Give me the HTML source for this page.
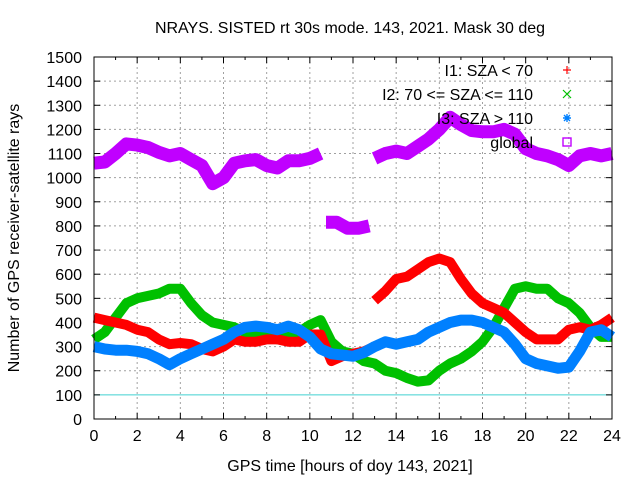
<!DOCTYPE html>
<html><head><meta charset="utf-8"><style>
body{margin:0;background:#fff}
svg{display:block;font-family:"Liberation Sans",sans-serif}
</style></head><body>
<svg id="chart" width="640" height="480">
<text x="350" y="33" font-size="16" text-anchor="middle" fill="#000">NRAYS. SISTED rt 30s mode. 143, 2021. Mask 30 deg</text>
<g id="grid"></g><g id="ticks"></g><g id="series"></g>
<text x="19" y="238" font-size="16" text-anchor="middle" transform="rotate(-90 19 238)">Number of GPS receiver-satellite rays</text>
<text x="350" y="471" font-size="16" text-anchor="middle">GPS time [hours of doy 143, 2021]</text>
<rect x="94" y="57" width="518" height="362" fill="none" stroke="#000" stroke-width="1"/>
<g id="legend"></g>
</svg>
<script>
const xTicks=[0,2,4,6,8,10,12,14,16,18,20,22,24];
const yTicks=[0,100,200,300,400,500,600,700,800,900,1000,1100,1200,1300,1400,1500];
const hours=[0,0.5,1,1.5,2,2.5,3,3.5,4,4.5,5,5.5,6,6.5,7,7.5,8,8.5,9,9.5,10,10.5,11,11.5,12,12.5,13,13.5,14,14.5,15,15.5,16,16.5,17,17.5,18,18.5,19,19.5,20,20.5,21,21.5,22,22.5,23,23.5,24];
const globalX=[0,0.5,1,1.5,2,2.5,3,3.5,4,4.5,5,5.5,6,6.5,7,7.5,8,8.5,9,9.5,10,10.5,null,10.75,11.25,11.75,12.25,12.75,null,13,13.5,14,14.5,15,15.5,16,16.5,17,17.5,18,18.5,19,19.5,20,20.5,21,21.5,22,22.5,23,23.5,24];
const globalV=[1060,1065,1100,1140,1135,1125,1105,1090,1100,1075,1050,975,1000,1060,1070,1075,1050,1040,1070,1070,1080,1100,null,815,815,790,790,800,null,1080,1100,1110,1100,1130,1160,1200,1250,1220,1195,1190,1190,1200,1180,1120,1100,1090,1075,1050,1090,1100,1090,1100];
const redX=[0,0.5,1,1.5,2,2.5,3,3.5,4,4.5,5,5.5,6,6.5,7,7.5,8,8.5,9,9.5,10,10.5,11,11.5,12,12.5,13,null,13,13.5,14,14.5,15,15.5,16,16.5,17,17.5,18,18.5,19,19.5,20,20.5,21,21.5,22,22.5,23,23.5,24];
const redV=[420,410,400,390,370,360,330,310,315,310,290,280,300,330,320,320,330,330,320,320,350,350,240,260,270,280,300,null,490,530,580,590,620,650,665,650,580,520,480,460,440,400,360,330,330,330,370,380,370,390,420];
const greenV=[330,360,420,480,500,510,520,540,540,480,430,400,390,380,360,350,340,330,340,360,390,410,320,280,270,240,230,200,190,170,155,160,200,230,250,280,320,380,460,540,550,540,540,500,480,440,380,340,340];
const blueV=[300,290,285,285,280,270,250,225,250,270,290,310,330,360,380,385,380,370,385,370,340,290,270,265,260,275,300,320,310,320,330,360,380,400,410,410,400,380,360,310,250,230,220,210,215,280,360,370,340];
const X=h=>94+h/24*518, Y=v=>419-v/1500*362;
const NS='http://www.w3.org/2000/svg';
function mk(t,a,p){const e=document.createElementNS(NS,t);for(const k in a)e.setAttribute(k,a[k]);p.appendChild(e);return e;}
const grid=document.getElementById('grid'),ticks=document.getElementById('ticks'),ser=document.getElementById('series'),leg=document.getElementById('legend');
xTicks.forEach(t=>{const x=X(t);
 if(t>0&&t<24){const g=mk('line',{x1:x,x2:x,y1:57,y2:419,stroke:'#a0a0a0','stroke-dasharray':'2,3'},grid);
 
 }
 mk('line',{x1:x,x2:x,y1:419,y2:413,stroke:'#000'},ticks);mk('line',{x1:x,x2:x,y1:57,y2:63,stroke:'#000'},ticks);
 const l=mk('text',{x:x,y:441,'font-size':16,'text-anchor':'middle'},ticks);l.textContent=t;
 
 });
for(let h=1;h<24;h+=2){mk('line',{x1:X(h),x2:X(h),y1:419,y2:416,stroke:'#000'},ticks);mk('line',{x1:X(h),x2:X(h),y1:57,y2:60,stroke:'#000'},ticks);}
yTicks.forEach(t=>{const y=Y(t);
 if(t>100&&t<1500){const g=mk('line',{x1:94,x2:612,y1:y,y2:y,stroke:'#a0a0a0','stroke-dasharray':'2,3'},grid);
 
 }
 mk('line',{x1:94,x2:100,y1:y,y2:y,stroke:'#000'},ticks);mk('line',{x1:612,x2:606,y1:y,y2:y,stroke:'#000'},ticks);
 const l=mk('text',{x:82,y:y+6,'font-size':16,'text-anchor':'end'},ticks);l.textContent=t;
 
 });
const ref=mk('line',{x1:94,x2:612,y1:Y(100),y2:Y(100),stroke:'#40d0d0'},grid);


function band(xs,vs,color,w,name){let d='',pen=false;
 xs.forEach((h,i)=>{const v=vs[i];if(h===null||v===null){pen=false;return;}d+=(pen?'L':'M')+X(h).toFixed(1)+','+Y(v).toFixed(1);pen=true;});
 const p=mk('path',{d:d,fill:'none',stroke:color,'stroke-width':w,'stroke-linejoin':'round','stroke-linecap':'butt'},ser);
 
 }
band(hours,greenV,'#00c000',10,'series-i2');
band(redX,redV,'#ff0000',10,'series-i1');
band(hours,blueV,'#0080ff',11,'series-i3');
band(globalX,globalV,'#c000ff',13,'series-global');
const legItems=[['I1: SZA < 70','#ff0000'],['I2: 70 <= SZA <= 110','#00c000'],['I3: SZA > 110','#0080ff'],['global','#c000ff']];
legItems.forEach((it,i)=>{const y=76+i*24;
 const t=mk('text',{x:533,y:y,'font-size':16,'text-anchor':'end'},leg);t.textContent=it[0];
 
 
 const cx=567,cy=y-6,c=it[1];let s;
 if(i===0){s=mk('path',{d:`M${cx-4},${cy}H${cx+4}M${cx},${cy-4}V${cy+4}`,stroke:c,'stroke-width':1.2,fill:'none'},leg);}
 else if(i===1){s=mk('path',{d:`M${cx-4},${cy-4}L${cx+4},${cy+4}M${cx-4},${cy+4}L${cx+4},${cy-4}`,stroke:c,'stroke-width':1.2,fill:'none'},leg);}
 else if(i===2){s=mk('path',{d:`M${cx-4},${cy}H${cx+4}M${cx},${cy-4}V${cy+4}M${cx-3},${cy-3}L${cx+3},${cy+3}M${cx-3},${cy+3}L${cx+3},${cy-3}`,stroke:c,'stroke-width':1.4,fill:'none'},leg);}
 else {s=mk('rect',{x:cx-4,y:cy-4,width:8,height:8,stroke:c,'stroke-width':1.4,fill:'none'},leg);}
 
 });
</script>
</body></html>
